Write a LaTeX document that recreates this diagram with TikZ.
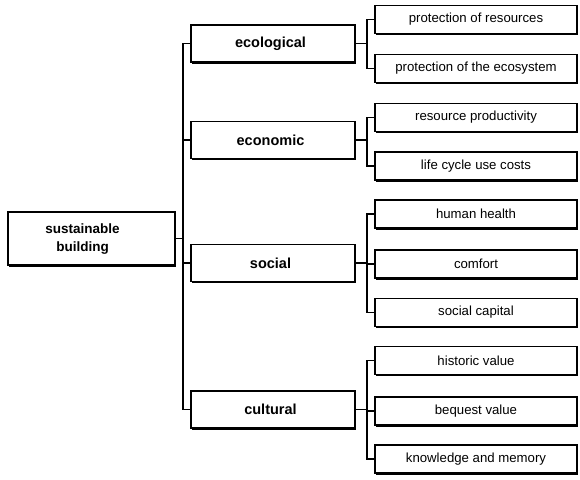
\documentclass[tikz,border=0pt]{standalone}
\usepackage{fontspec}
\setmainfont{Liberation Sans}
\usetikzlibrary{shadows}

\begin{document}
\begin{tikzpicture}[
    x=1pt, y=-1pt,
    box/.style={draw, fill=white, line width=1.3pt, inner sep=0pt, align=center,
      general shadow={fill=black, shadow xshift=1.2pt, shadow yshift=-1.8pt}},
    rootbox/.style={box, minimum width=167pt, minimum height=53pt, font=\fontsize{13.5}{18}\selectfont\bfseries},
    aspect/.style={box, minimum width=164pt, minimum height=37pt, font=\fontsize{14.5}{16}\selectfont\bfseries},
    leaf/.style={box, minimum width=202pt, minimum height=28pt, font=\fontsize{13.2}{15}\selectfont},
    fork/.style={line width=1.7pt}
  ]
  \useasboundingbox (0,0) rectangle (580,479);

  % --- root ---
  \node[rootbox] (root) at (91.5,238.5)
    {\begin{tabular}{@{}c@{}}sustainable\\building\end{tabular}\hspace{18pt}};

  % --- aspects ---
  \node[aspect] (eco)  at (273,43.5)  {ecological\hspace{5pt}};
  \node[aspect] (econ) at (273,140)   {economic\hspace{5pt}};
  \node[aspect] (soc)  at (273,263)   {social\hspace{5pt}};
  \node[aspect] (cult) at (273,409.5) {cultural\hspace{5pt}};

  % --- criteria ---
  \foreach \n/\y/\t in {pres/19.5/protection of resources,
                        peco/68.5/protection of the ecosystem,
                        rprod/117.5/resource productivity,
                        lcc/166/life cycle use costs,
                        health/214/human health,
                        comfort/264/comfort,
                        capital/312.5/social capital,
                        hist/360.5/historic value,
                        beq/411/bequest value,
                        know/459/knowledge and memory} {
    \node[leaf] (\n) at (476,\y) {\t};
  }

  % --- connectors ---
  \foreach \a in {eco,econ,soc,cult}
    \draw[fork] (root.east) -- ++(7,0) |- (\a.west);
  \foreach \a/\c in {eco/pres, eco/peco, econ/rprod, econ/lcc,
                     soc/health, soc/comfort, soc/capital,
                     cult/hist, cult/beq, cult/know}
    \draw[fork] (\a.east) -- ++(11,0) |- (\c.west);

\end{tikzpicture}
\end{document}
